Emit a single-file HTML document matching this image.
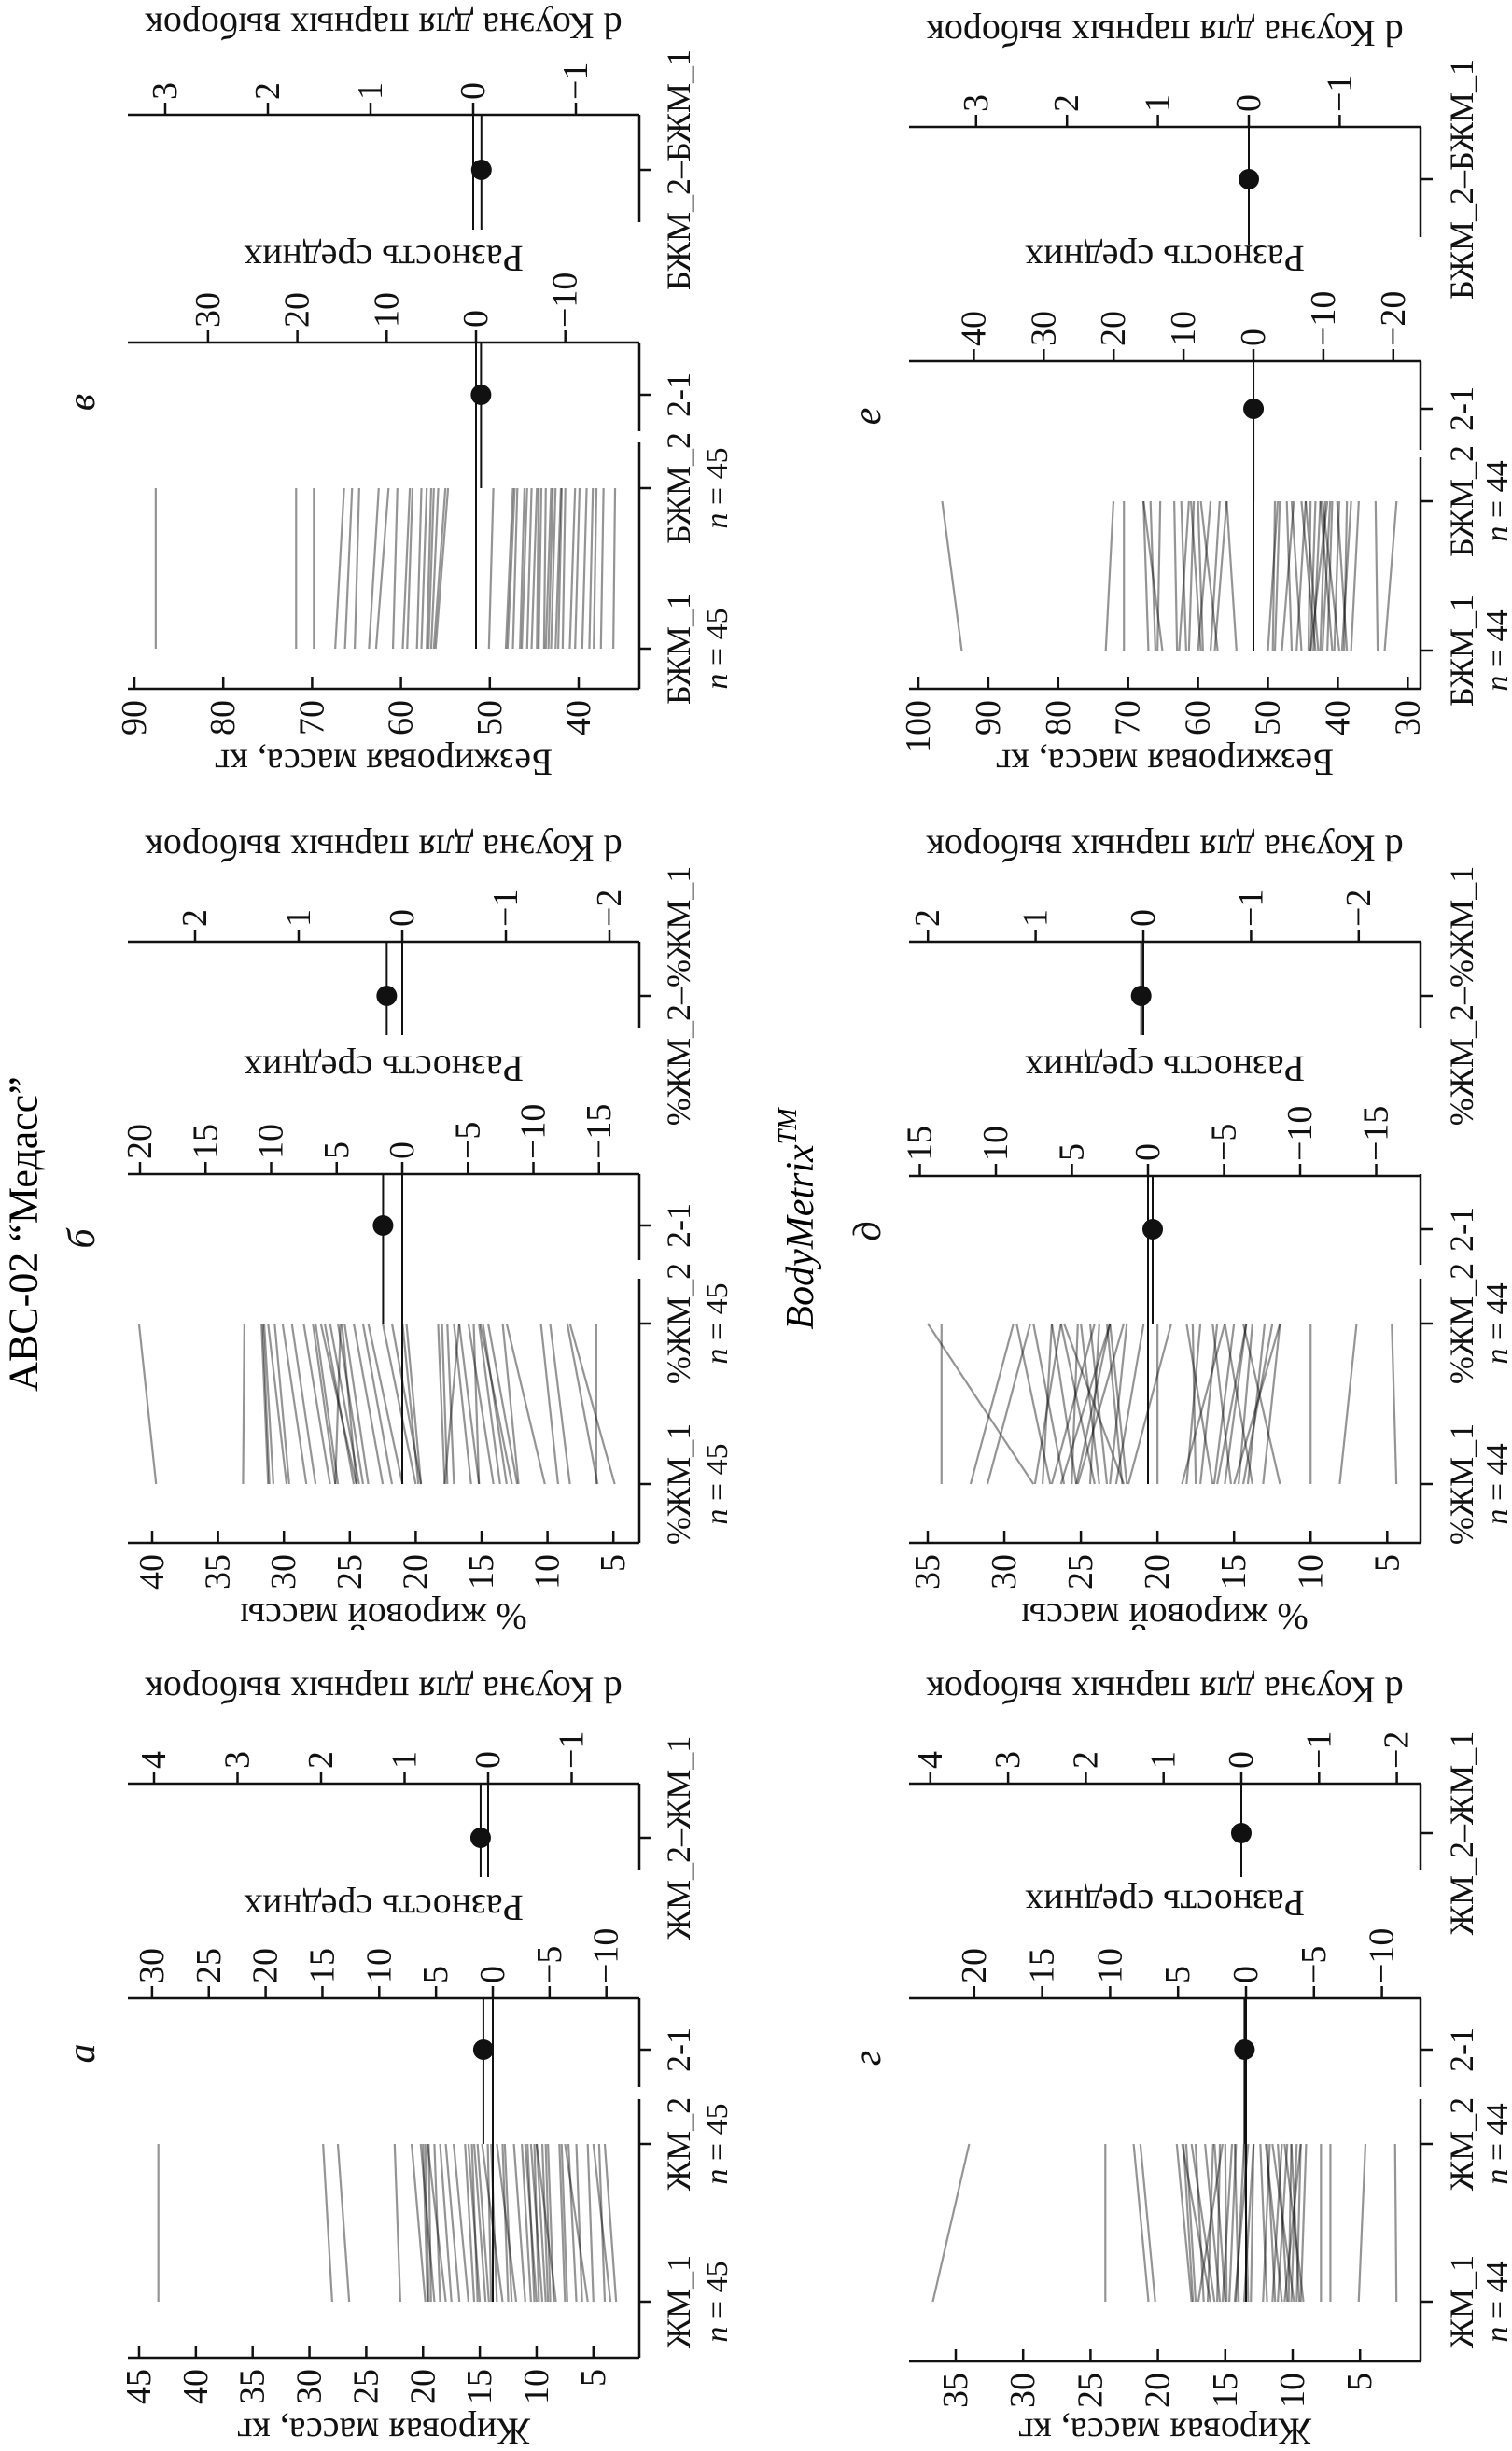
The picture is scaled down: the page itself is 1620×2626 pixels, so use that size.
<!DOCTYPE html>
<html><head><meta charset="utf-8">
<style>
html,body{margin:0;padding:0;background:#fff;}
svg{display:block;font-family:"Liberation Serif","DejaVu Serif",serif;}
</style></head>
<body>
<svg id="fig" width="1620" height="2626" viewBox="0 0 1620 2626" xmlns="http://www.w3.org/2000/svg">
<rect width="1620" height="2626" fill="#fff"/>
<text transform="translate(25,1322) rotate(-90)" text-anchor="middle" dominant-baseline="central" font-size="44">АВС-02 “Медасс”</text>
<text transform="translate(858,1306) rotate(-90)" text-anchor="middle" dominant-baseline="central" font-size="42" font-style="italic">BodyMetrix<tspan font-size="28" dy="-14">TM</tspan></text>
</svg>
<script>
// ---- data (group1 -> group2 per subject), Cohen's d ----
const a_g1=[43.3,28.0,26.5,22.0,19.8,19.6,19.5,19.3,19.0,18.5,18.0,17.5,16.8,16.0,15.5,15.2,15.0,14.5,14.2,14.0,13.5,13.0,12.5,12.2,11.8,11.0,10.5,10.2,10.0,9.8,9.5,9.2,9.0,8.8,8.5,8.3,7.5,7.3,6.5,6.0,5.5,5.0,4.0,3.5,3.0];
const a_g2=[43.3,28.8,27.5,22.5,21.0,20.0,19.8,19.5,20.2,19.0,19.6,18.5,18.0,17.3,16.3,15.7,16.0,15.5,15.2,14.3,14.0,14.8,13.0,12.8,13.5,12.0,11.3,10.8,11.0,10.2,10.5,10.0,9.5,9.2,9.0,10.0,8.0,7.8,7.2,6.5,7.5,5.5,4.5,5.0,4.0];
const a_d=[0.09];
const b_g1=[39.7,33.1,31.1,30.8,29.8,29.6,28.3,27.6,26.5,26.1,25.9,24.7,24.5,24.3,24.0,24.5,23.6,22.5,21.8,21.0,20.0,19.8,19.6,17.8,17.6,17.1,15.8,15.2,14.1,13.6,13.1,12.7,12.3,12.2,10.2,9.2,8.3,6.2,6.3,4.9,15.2,19.6,31.2,17.8,26.1];
const b_g2=[41.0,33.0,31.6,31.5,31.2,30.7,30.1,29.4,28.5,27.8,27.6,26.9,27.2,26.5,25.9,25.6,25.4,24.7,24.0,23.6,22.5,21.0,20.7,18.3,18.0,17.6,17.1,16.7,16.0,15.2,14.9,15.1,14.5,13.4,13.1,10.5,9.8,8.5,6.3,8.3,15.6,21.8,31.7,16.7,25.7];
const b_d=[0.15];
const c_g1=[87.6,71.8,69.8,67.4,66.3,65.2,63.6,62.8,60.9,59.8,59.3,58.2,57.7,57.1,56.9,56.6,56.3,56.1,50.1,48.2,48.0,47.4,46.6,46.4,45.8,45.3,44.7,44.5,43.9,43.7,43.4,43.1,42.6,42.3,41.8,41.0,40.4,39.6,38.8,38.3,37.5,36.1];
const c_g2=[87.6,71.8,69.8,66.4,65.5,64.7,62.5,61.4,60.4,59.0,58.7,57.7,57.1,56.6,56.3,55.8,55.0,54.7,49.6,47.4,47.2,46.9,46.1,45.8,45.3,44.7,44.5,44.2,43.7,43.1,42.9,42.6,42.0,41.9,41.5,40.4,39.9,39.1,38.4,38.0,37.2,35.9];
const c_d=[-0.08];
const g_g1=[36.7,23.9,20.7,20.2,17.5,17.2,17.4,16.6,16.1,15.8,15.4,15.0,14.9,14.7,14.2,14.0,13.1,12.2,11.9,11.5,11.1,10.8,10.4,10.1,9.9,9.7,9.5,9.4,9.2,7.9,7.2,5.1,2.3,13.3,14.3,15.6,16.3,15.2,13.6,11.3,10.3,10.6,17.0];
const g_g2=[34.0,23.9,21.8,21.3,18.6,17.9,18.1,17.2,18.2,17.5,16.5,15.8,15.0,14.2,13.6,14.3,12.9,11.7,12.4,10.8,10.4,12.0,11.1,9.7,11.5,9.4,10.1,9.0,10.6,7.9,7.2,4.6,2.4,13.6,13.3,15.4,15.9,14.5,12.9,11.9,10.1,9.4,15.2];
const g_d=[0.0];
const e_g1=[34.1,32.2,31.1,28.1,28.0,27.0,26.1,25.3,25.3,24.1,23.3,23.1,22.2,22.0,21.9,20.0,18.1,17.5,17.2,16.3,16.1,15.2,15.0,14.1,13.8,13.1,12.0,10.0,8.1,4.4,26.9,25.6,24.4,23.8,22.3,18.4,15.6,14.7,14.4,26.3,25.2,27.5,22.7,16.4];
const e_g2=[34.1,29.4,28.3,35.0,26.3,29.2,28.1,26.9,23.1,26.3,24.4,22.0,26.1,23.1,19.1,20.0,17.2,17.7,16.1,15.0,14.2,16.4,12.0,13.0,15.6,12.0,14.4,10.0,7.0,4.7,24.1,25.2,23.8,25.0,23.3,15.6,14.2,13.8,12.5,23.1,22.2,26.9,20.9,18.1];
const e_d=[0.02];
const f_g1=[93.8,73.2,70.6,67.1,66.1,65.8,63.0,61.3,60.0,59.6,57.6,57.2,49.3,49.0,46.6,45.9,43.9,43.5,43.2,42.5,41.5,40.5,39.8,39.1,38.1,34.3,33.3,65.1,62.7,59.3,58.2,54.5,48.0,45.2,44.2,42.2,40.8,39.4,38.7,43.9,42.8,50.0,61.7];
const f_g2=[96.6,72.1,70.6,67.8,66.8,65.4,63.4,60.6,58.2,61.0,55.9,59.6,49.0,48.3,47.3,44.6,43.2,42.5,45.2,41.8,40.8,39.8,42.2,38.7,37.0,34.6,31.6,67.8,61.3,60.0,56.9,55.9,46.3,46.6,43.9,41.1,42.5,38.1,40.1,41.5,44.6,48.6,62.4];
const f_d=[0.0];
// tick labels
const a_ticks=[45,40,35,30,25,20,15,10,5], a_diffTicks=[30,25,20,15,10,5,0,-5,-10], a_dTicks=[4,3,2,1,0,-1];
const b_ticks=[40,35,30,25,20,15,10,5], b_diffTicks=[20,15,10,5,0,-5,-10,-15], b_dTicks=[2,1,0,-1,-2];
const c_ticks=[90,80,70,60,50,40], c_diffTicks=[30,20,10,0,-10], c_dTicks=[3,2,1,0,-1];
const g_ticks=[35,30,25,20,15,10,5], g_diffTicks=[20,15,10,5,0,-5,-10], g_dTicks=[4,3,2,1,0,-1,-2];
const e_ticks=[35,30,25,20,15,10,5], e_diffTicks=[15,10,5,0,-5,-10,-15], e_dTicks=[2,1,0,-1,-2];
const f_ticks=[100,90,80,70,60,50,40,30], f_diffTicks=[40,30,20,10,0,-10,-20], f_dTicks=[3,2,1,0,-1];

// ---- layout (display pixel geometry) ----
const rowTop={x0:137,x1:685,catX:685,catLabX:727,nX:768,cx:411,labX:88};
const rowBot={x0:974,x1:1522,catX:1522,catLabX:1566,nX:1604,cx:1248,labX:930};
const P=[
 {id:'a',L:rowTop,g1:a_g1,g2:a_g2,d:a_d,ticks:a_ticks,dt:a_diffTicks,ct:a_dTicks,n1:'ЖМ_1',n2:'ЖМ_2',n:45,t:'Жировая масса, кг',refV:45,refX:149,k:12.17,valY:2526,yG1:2466,yG2:2297,catTop:2249,s21:[2141,2236],y21:2196,diffY:2141,diff0:528,kD:12.17,sD:[1911,2003],yD:1969,dY:1911,d0:523,kd:89.5,lab:'а',labY:2200,dtY:2044,ctY:1811,vtY:2605},
 {id:'b',L:rowTop,g1:b_g1,g2:b_g2,d:b_d,ticks:b_ticks,dt:b_diffTicks,ct:b_dTicks,n1:'%ЖМ_1',n2:'%ЖМ_2',n:45,t:'% жировой массы',refV:40,refX:163,k:14.12,valY:1653,yG1:1590,yG2:1418,catTop:1370,s21:[1258,1350],y21:1313,diffY:1258,diff0:431,kD:14.05,sD:[1009,1101],yD:1067,dY:1009,d0:431,kd:111,lab:'б',labY:1327,dtY:1145,ctY:909,vtY:1732},
 {id:'c',L:rowTop,g1:c_g1,g2:c_g2,d:c_d,ticks:c_ticks,dt:c_diffTicks,ct:c_dTicks,n1:'БЖМ_1',n2:'БЖМ_2',n:45,t:'Безжировая масса, кг',refV:90,refX:144,k:9.52,valY:738,yG1:695,yG2:523,catTop:474,s21:[367,462],y21:423,diffY:367,diff0:510,kD:9.57,sD:[123,238],yD:182,dY:123,d0:507,kd:110,lab:'в',labY:431,dtY:277,ctY:28,vtY:817},
 {id:'g',L:rowBot,g1:g_g1,g2:g_g2,d:g_d,ticks:g_ticks,dt:g_diffTicks,ct:g_dTicks,n1:'ЖМ_1',n2:'ЖМ_2',n:44,t:'Жировая масса, кг',refV:35,refX:1024,k:14.44,valY:2530,yG1:2466,yG2:2297,catTop:2249,s21:[2141,2236],y21:2196,diffY:2141,diff0:1335,kD:14.56,sD:[1911,2003],yD:1964,dY:1911,d0:1330,kd:83.3,lab:'г',labY:2205,dtY:2039,ctY:1811,vtY:2605},
 {id:'e',L:rowBot,g1:e_g1,g2:e_g2,d:e_d,ticks:e_ticks,dt:e_diffTicks,ct:e_dTicks,n1:'%ЖМ_1',n2:'%ЖМ_2',n:44,t:'% жировой массы',refV:35,refX:994,k:16.41,valY:1653,yG1:1590,yG2:1418,catTop:1370,s21:[1258,1355],y21:1317,diffY:1260,diff0:1230,kD:16.3,sD:[1009,1101],yD:1067,dY:1009,d0:1225,kd:115.4,lab:'д',labY:1319,dtY:1145,ctY:909,vtY:1732},
 {id:'f',L:rowBot,g1:f_g1,g2:f_g2,d:f_d,ticks:f_ticks,dt:f_diffTicks,ct:f_dTicks,n1:'БЖМ_1',n2:'БЖМ_2',n:44,t:'Безжировая масса, кг',refV:100,refX:984,k:7.49,valY:738,yG1:697,yG2:537,catTop:490,s21:[387,482],y21:438,diffY:387,diff0:1343,kD:7.49,sD:[136,254],yD:192,dY:136,d0:1338,kd:97.4,lab:'е',labY:446,dtY:277,ctY:36,vtY:817}
];
const NS='http://www.w3.org/2000/svg';
const svg=document.getElementById('fig');
function mk(tag,attrs,parent){const e=document.createElementNS(NS,tag);for(const k in attrs)e.setAttribute(k,attrs[k]);(parent||svg).appendChild(e);return e;}
function ln(x1,y1,x2,y2,g,w,c,op){return mk('line',{x1:x1,y1:y1,x2:x2,y2:y2,stroke:c||'#111','stroke-width':w||2.5,'stroke-opacity':op==null?1:op},g);}
function txt(s,x,y,rot,anchor,size,g,style){const t=mk('text',{transform:'translate('+x+','+y+') rotate('+rot+')','text-anchor':anchor,'dominant-baseline':'central','font-size':size,fill:'#111'},g);if(style)t.setAttribute('font-style',style);t.textContent=s;return t;}
function fmt(v){return v<0?'\u2212'+Math.abs(v):String(v);}
const mean=a=>a.reduce((s,v)=>s+v,0)/a.length;

P.forEach(p=>{
  const L=p.L;
  const g=mk('g',{});
  
  
  const xv=v=>p.refX+(p.refV-v)*p.k;
  const xd=v=>p.diff0-v*p.kD;
  const xc=v=>p.d0-v*p.kd;
  const lg=mk('g',{},g);
  
  
  p.g1.forEach((v,i)=>{
    const l=ln(xv(v),p.yG1,xv(p.g2[i]),p.yG2,lg,2.2,'#000',0.42);
    
    
  });
  const va=mk('g',{},g);
  
  
  ln(L.x0,p.valY,L.x1,p.valY,va);
  p.ticks.forEach(v=>{ln(xv(v),p.valY,xv(v),p.valY-13,va);txt(fmt(v),xv(v),p.valY+12,-90,'end',38,va);});
  const vt=txt(p.t,L.cx,p.vtY,180,'middle',40,g);
  
  
  const ca=mk('g',{},g);
  
  
  ln(L.catX,p.catTop,L.catX,p.valY,ca);
  ln(L.catX,p.s21[0],L.catX,p.s21[1],ca);
  ln(L.catX,p.sD[0],L.catX,p.sD[1],ca);
  [[p.yG1,p.n1,true],[p.yG2,p.n2,true],[p.y21,'2-1',false],[p.yD,p.n2+'\u2013'+p.n1,false]].forEach(c=>{
    ln(L.catX,c[0],L.catX+13,c[0],ca);
    txt(c[1],L.catLabX,c[0],-90,'middle',36,ca);
    if(c[2]){
      const t=txt('',L.nX,c[0],-90,'middle',34,ca);
      const s1=mk('tspan',{'font-style':'italic'},t); s1.textContent='n';
      const s2=mk('tspan',{},t); s2.textContent=' = '+p.n;
    }
  });
  const m1=mean(p.g1), m2=mean(p.g2), diff=m2-m1;
  const da=mk('g',{},g);
  
  
  ln(L.x0,p.diffY,L.x1,p.diffY,da);
  p.dt.forEach(v=>{ln(xd(v),p.diffY,xd(v),p.diffY-13,da);txt(fmt(v),xd(v),p.diffY-16,-90,'start',38,da);});
  const dtt=txt('Разность средних',L.cx,p.dtY,180,'middle',40,g);
  
  
  const ml1=ln(p.diff0,p.yG1,p.diff0,p.diffY,g,2,'#111');
  
  
  const ml2=ln(xd(diff),p.yG2,xd(diff),p.diffY,g,2,'#111');
  
  
  const dd=mk('circle',{cx:xd(diff),cy:p.y21,r:11,fill:'#111'},g);
  
  
  const ka=mk('g',{},g);
  
  
  ln(L.x0,p.dY,L.x1,p.dY,ka);
  p.ct.forEach(v=>{ln(xc(v),p.dY,xc(v),p.dY-13,ka);txt(fmt(v),xc(v),p.dY-16,-90,'start',38,ka);});
  const ctt=txt('d Коуэна для парных выборок',L.cx,p.ctY,180,'middle',40,g);
  
  
  ln(p.d0,p.dY,p.d0,p.sD[1]+8,g,2,'#111');
  ln(xc(p.d[0]),p.dY,xc(p.d[0]),p.sD[1]+8,g,2,'#111');
  const cd=mk('circle',{cx:xc(p.d[0]),cy:p.yD,r:11,fill:'#111'},g);
  
  
  const pl=txt(p.lab,L.labX,p.labY,-90,'middle',42,g,'italic');
  
  
});
</script>
</body></html>
